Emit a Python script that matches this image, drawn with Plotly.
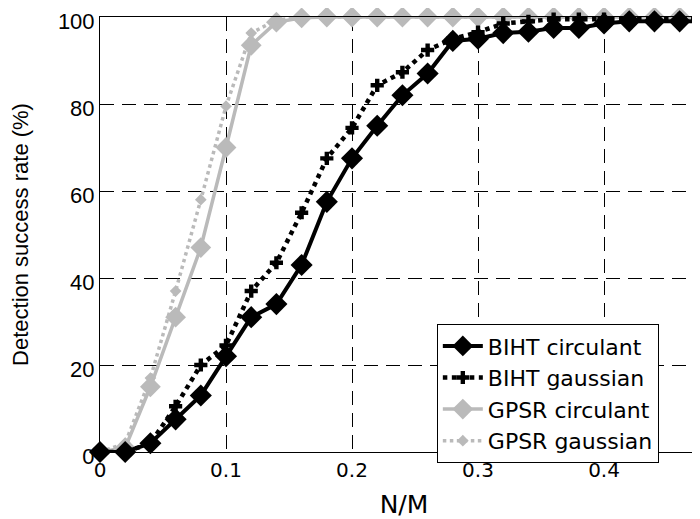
import plotly.graph_objects as go

nm = [0, 0.02, 0.04, 0.06, 0.08, 0.10, 0.12, 0.14, 0.16, 0.18, 0.20, 0.22, 0.24,
      0.26, 0.28, 0.30, 0.32, 0.34, 0.36, 0.38, 0.40, 0.42, 0.44, 0.46, 0.48, 0.50]

biht_circulant = [0, 0, 2, 7.5, 13, 22, 31, 34, 43, 57.5, 67.5, 75, 82, 87, 94.5,
                  95, 96.3, 96.6, 97.5, 97.5, 98.5, 99, 99, 99, 99, 99]
biht_gaussian = [0, 0, 2, 10.5, 20, 24.5, 37, 43.5, 55, 67.5, 74.5, 84.3, 87.3, 92.4,
                 95, 96.5, 98.5, 99, 99.5, 99.5, 99.5, 99.5, 99.5, 99.5, 99.5, 99.5]
gpsr_circulant = [0, 1, 15, 31, 47, 70, 93.5, 98.8, 99.8, 100, 100, 100, 100, 100,
                  100, 100, 100, 100, 100, 100, 100, 100, 100, 100, 100, 100]
gpsr_gaussian = [0, 2, 17, 37, 58, 79.5, 96.3, 99.3, 100, 100, 100, 100, 100, 100,
                 100, 100, 100, 100, 100, 100, 100, 100, 100, 100, 100, 100]

series_names = ["BIHT circulant", "BIHT gaussian", "GPSR circulant", "GPSR gaussian"]
x_ticks = [0, 0.1, 0.2, 0.3, 0.4]
x_tick_text = ["0", "0.1", "0.2", "0.3", "0.4"]
y_ticks = [0, 20, 40, 60, 80, 100]

gray = "#bababa"
fig = go.Figure()
fig.add_trace(go.Scatter(x=nm, y=gpsr_gaussian, name=series_names[3], mode="lines+markers",
                         line=dict(color=gray, width=3.5, dash="dot"),
                         marker=dict(symbol="diamond", size=9, color=gray), cliponaxis=False))
fig.add_trace(go.Scatter(x=nm, y=gpsr_circulant, name=series_names[2], mode="lines+markers",
                         line=dict(color=gray, width=3.5),
                         marker=dict(symbol="diamond", size=16, color=gray), cliponaxis=False))
fig.add_trace(go.Scatter(x=nm, y=biht_gaussian, name=series_names[1], mode="lines+markers",
                         line=dict(color="black", width=4.5, dash="dot"),
                         marker=dict(symbol="cross", size=11, color="black"), cliponaxis=False))
fig.add_trace(go.Scatter(x=nm, y=biht_circulant, name=series_names[0], mode="lines+markers",
                         line=dict(color="black", width=4),
                         marker=dict(symbol="diamond", size=17, color="black"), cliponaxis=False))

fig.update_layout(
    width=700, height=519,
    margin=dict(l=92, r=0, t=9, b=75),
    paper_bgcolor="white", plot_bgcolor="white",
    showlegend=True,
    legend=dict(x=0.554, y=0.294, xanchor="left", yanchor="top",
                traceorder="reversed",
                bgcolor="white", bordercolor="black", borderwidth=1,
                font=dict(family="DejaVu Sans, sans-serif", size=22, color="black"),
                itemwidth=40, tracegroupgap=0),
    xaxis=dict(range=[0, 0.4825], tickvals=x_ticks, ticktext=x_tick_text,
               tickfont=dict(family="DejaVu Sans, sans-serif", size=20, color="black"),
               showgrid=True, gridcolor="black", gridwidth=1, ticklabeloverflow="allow",
               griddash="14px,8px", showline=True, linecolor="black", linewidth=1,
               mirror=True, ticks="", zeroline=False, automargin=False,
               title=dict(text="N/M", font=dict(family="DejaVu Sans, sans-serif", size=25, color="black"), standoff=14)),
    yaxis=dict(range=[0, 100], tickvals=y_ticks, ticklabeloverflow="allow", ticklabelshift=4,
               tickfont=dict(family="Liberation Sans, Arial, sans-serif", size=22, color="black"),
               showgrid=True, gridcolor="black", gridwidth=1, griddash="14px,8px",
               showline=True, linecolor="black", linewidth=1, ticks="", zeroline=False,
               automargin=False,
               title=dict(text="Detection success rate (%)", font=dict(family="Liberation Sans, Arial, sans-serif", size=22, color="black"), standoff=35)),
)

fig.write_html("out.html")
